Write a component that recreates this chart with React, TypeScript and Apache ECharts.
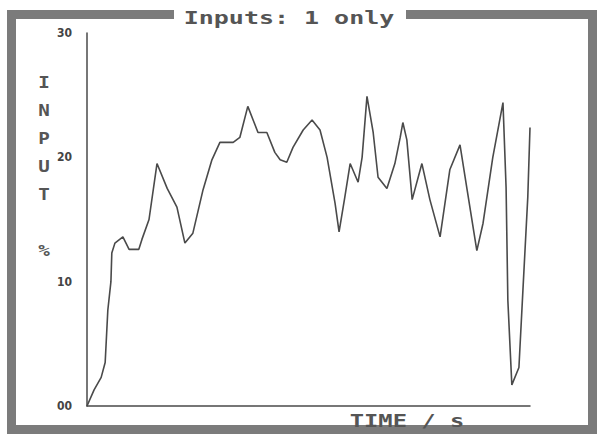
import React, { useEffect, useRef } from "react";
import * as echarts from "echarts";

const titleText = "Inputs: 1 only";
const xAxisTitle = "TIME / s";
const yAxisTitle = "I\nN\nP\nU\nT\n\n%";
const yTickValues = [0, 10, 20, 30];
const yTickLabels = ["00", "10", "20", "30"];

const timeValues = [
  0, 1.6, 3.2, 4.1, 4.7, 5.4, 5.6, 6.3, 8.1, 9.5, 11.7, 12.4, 14.0, 15.8, 18.1,
  20.3, 22.1, 23.9, 26.2, 28.2, 30.0, 33.0, 34.5, 36.3, 38.6, 40.6, 42.4, 43.6,
  45.1, 46.5, 48.8, 50.8, 52.6, 54.2, 56.0, 56.9, 58.2, 59.4, 61.2, 62.1, 63.2,
  64.6, 65.7, 67.7, 69.5, 70.7, 71.3, 72.2, 73.4, 75.6, 77.4, 79.7, 81.9, 84.2,
  85.8, 88.0, 89.4, 91.6, 93.9, 94.6, 95.0, 95.9, 97.5, 98.4, 99.5, 100,
];
const inputValues = [
  0, 1.3, 2.3, 3.5, 7.7, 10.0, 12.3, 13.1, 13.6, 12.6, 12.6, 13.4, 15.0, 19.5,
  17.5, 16.0, 13.1, 13.9, 17.4, 19.8, 21.2, 21.2, 21.6, 24.1, 22.0, 22.0, 20.4,
  19.8, 19.6, 20.8, 22.2, 23.0, 22.2, 20.0, 16.3, 14.0, 16.8, 19.5, 18.0, 20.0,
  24.9, 22.0, 18.4, 17.5, 19.5, 21.6, 22.8, 21.4, 16.6, 19.5, 16.6, 13.6, 19.0,
  21.0, 17.4, 12.5, 14.7, 20.0, 24.4, 17.6, 8.5, 1.7, 3.1, 9.3, 16.8, 22.4,
];

export default function App() {
  const ref = useRef<HTMLDivElement>(null);
  useEffect(() => {
    document.body.style.margin = "0";
    if (!ref.current) return;
    const chart = echarts.init(ref.current, null, { renderer: "svg" });
    const frame = "#7b7b7b";
    const ink = "#4a4a4a";
    const mono = "'DejaVu Sans Mono', 'Liberation Mono', monospace";
    chart.setOption({
      animation: false,
      backgroundColor: "#ffffff",
      grid: { left: 87, top: 33, right: 72, bottom: 30 },
      xAxis: {
        type: "value",
        min: 0,
        max: 100,
        axisLine: { show: true, lineStyle: { color: ink, width: 1.5 } },
        axisTick: { show: false },
        axisLabel: { show: false },
        splitLine: { show: false },
      },
      yAxis: {
        type: "value",
        min: 0,
        max: 30,
        interval: 10,
        axisLine: { show: true, lineStyle: { color: ink, width: 1.5 } },
        axisTick: { show: false },
        splitLine: { show: false },
        axisLabel: {
          margin: 15,
          color: "#444",
          fontSize: 12,
          fontWeight: "bold",
          fontFamily: "'Liberation Sans Narrow', 'DejaVu Sans Condensed', sans-serif",
          formatter: (v: number) => {
            const i = yTickValues.indexOf(v);
            return i >= 0 ? yTickLabels[i] : "";
          },
        },
      },
      series: [
        {
          type: "line",
          data: timeValues.map((t, i) => [t, inputValues[i]]),
          showSymbol: false,
          clip: false,
          lineStyle: { color: ink, width: 1.6 },
        },
      ],
      graphic: [
        {
          type: "rect",
          shape: { x: 11.5, y: 14.5, width: 581, height: 415 },
          style: { fill: "none", stroke: frame, lineWidth: 9 },
          z: 0,
        },
        {
          type: "rect",
          shape: { x: 174, y: 5, width: 232, height: 20 },
          style: { fill: "#ffffff" },
          z: 1,
        },
        {
          type: "text",
          x: 289,
          y: 18,
          scaleX: 1.47,
          z: 2,
          style: {
            text: titleText,
            textAlign: "center",
            textVerticalAlign: "middle",
            fontFamily: mono,
            fontWeight: "bold",
            fontSize: 17,
            fill: "#555",
          },
        },
        {
          type: "text",
          x: 44,
          y: 69,
          scaleX: 1.2,
          z: 2,
          style: {
            text: yAxisTitle,
            textAlign: "center",
            textVerticalAlign: "top",
            lineHeight: 28,
            fontFamily: mono,
            fontWeight: "bold",
            fontSize: 16,
            fill: "#555",
          },
        },
        {
          type: "text",
          x: 407,
          y: 421,
          scaleX: 1.4,
          z: 2,
          style: {
            text: xAxisTitle,
            textAlign: "center",
            textVerticalAlign: "middle",
            fontFamily: mono,
            fontWeight: "bold",
            fontSize: 17,
            fill: "#555",
          },
        },
      ],
    });
    return () => chart.dispose();
  }, []);
  return <div ref={ref} style={{ width: 602, height: 436 }} />;
}
